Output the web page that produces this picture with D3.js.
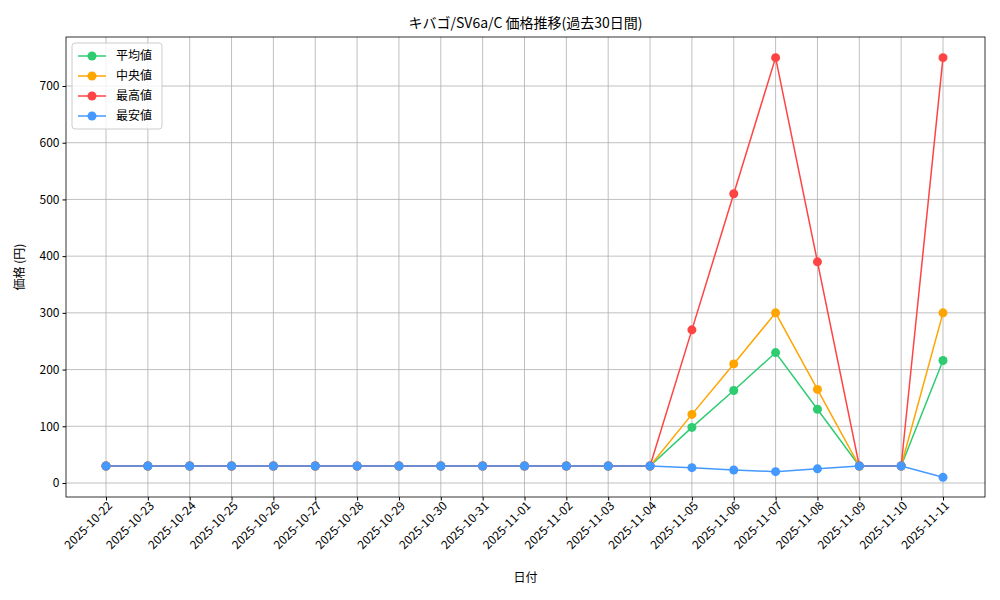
<!DOCTYPE html><html><head><meta charset="utf-8"><script src="https://cdn.jsdelivr.net/npm/d3@7"></script>
<style>body{margin:0;background:#fff}text{font-family:"Noto Sans CJK JP",sans-serif}</style></head><body><svg id="c" width="1000" height="600"></svg><script>
const dates=["2025-10-22","2025-10-23","2025-10-24","2025-10-25","2025-10-26","2025-10-27","2025-10-28","2025-10-29","2025-10-30","2025-10-31","2025-11-01","2025-11-02","2025-11-03","2025-11-04","2025-11-05","2025-11-06","2025-11-07","2025-11-08","2025-11-09","2025-11-10","2025-11-11"];
const avgVals=[30,30,30,30,30,30,30,30,30,30,30,30,30,30,98,163,230,130,30,30,216];
const medVals=[30,30,30,30,30,30,30,30,30,30,30,30,30,30,121,210,300,165,30,30,300];
const maxVals=[30,30,30,30,30,30,30,30,30,30,30,30,30,30,270,510,750,390,30,30,750];
const minVals=[30,30,30,30,30,30,30,30,30,30,30,30,30,30,27,23,20,25,30,30,10];
const yTicks=[0,100,200,300,400,500,600,700];
const series=[{name:"平均値",v:avgVals,c:"#2ecc71"},{name:"中央値",v:medVals,c:"#ffa500"},{name:"最高値",v:maxVals,c:"#ff4444"},{name:"最安値",v:minVals,c:"#4499ff"}];
const L=66,R=985,T=37,B=497;
const svg=d3.select("#c");
const x=d3.scalePoint().domain(dates).range([106,943]);
const y=d3.scaleLinear().domain([0,700]).range([483,86]);
const g=svg.append("g");
g.append("g").selectAll("line").data(dates).join("line").attr("x1",d=>x(d)).attr("x2",d=>x(d)).attr("y1",T).attr("y2",B).attr("stroke","#b0b0b0").attr("stroke-width",0.8);
g.append("g").selectAll("line").data(yTicks).join("line").attr("x1",L).attr("x2",R).attr("y1",d=>y(d)).attr("y2",d=>y(d)).attr("stroke","#b0b0b0").attr("stroke-width",0.8);
const xa=svg.append("g").attr("transform",`translate(0,${B})`).call(d3.axisBottom(x).tickSize(3.5).tickSizeOuter(0));
xa.select(".domain").remove();
xa.selectAll("text").attr("font-size",12).attr("text-anchor","end").attr("dx","0.3em").attr("dy","0.6em").attr("transform","rotate(-45,0,8)");
const ya=svg.append("g").attr("transform",`translate(${L},0)`).call(d3.axisLeft(y).tickValues(yTicks).tickSize(3.5));
ya.select(".domain").remove();ya.selectAll("text").attr("font-size",12);
svg.append("rect").attr("x",L).attr("y",T).attr("width",R-L).attr("height",B-T).attr("fill","none").attr("stroke","#000").attr("stroke-width",0.8);
const line=d3.line().x((d,i)=>x(dates[i])).y(d=>y(d));
series.forEach(s=>{
 svg.append("path").attr("d",line(s.v)).attr("fill","none").attr("stroke",s.c).attr("stroke-width",1.5);
 svg.append("g").selectAll("circle").data(s.v).join("circle").attr("cx",(d,i)=>x(dates[i])).attr("cy",d=>y(d)).attr("r",4.5).attr("fill",s.c);
});
svg.append("text").attr("x",(L+R)/2).attr("y",28).attr("text-anchor","middle").attr("font-size",14).text("キバゴ/SV6a/C 価格推移(過去30日間)");
svg.append("text").attr("x",(L+R)/2).attr("y",582).attr("text-anchor","middle").attr("font-size",12).text("日付");
svg.append("text").attr("transform",`translate(24,${(T+B)/2}) rotate(-90)`).attr("text-anchor","middle").attr("font-size",12).text("価格 (円)");
const lg=svg.append("g").attr("transform","translate(72,43)");
lg.append("rect").attr("width",90).attr("height",86).attr("rx",3).attr("fill","#fff").attr("fill-opacity",0.8).attr("stroke","#ccc");
series.forEach((s,i)=>{const yy=13+i*20;
 lg.append("line").attr("x1",6).attr("x2",34).attr("y1",yy).attr("y2",yy).attr("stroke",s.c).attr("stroke-width",1.5);
 lg.append("circle").attr("cx",20).attr("cy",yy).attr("r",4.5).attr("fill",s.c);
 lg.append("text").attr("x",44).attr("y",yy+4).attr("font-size",12).text(s.name);});
</script></body></html>
